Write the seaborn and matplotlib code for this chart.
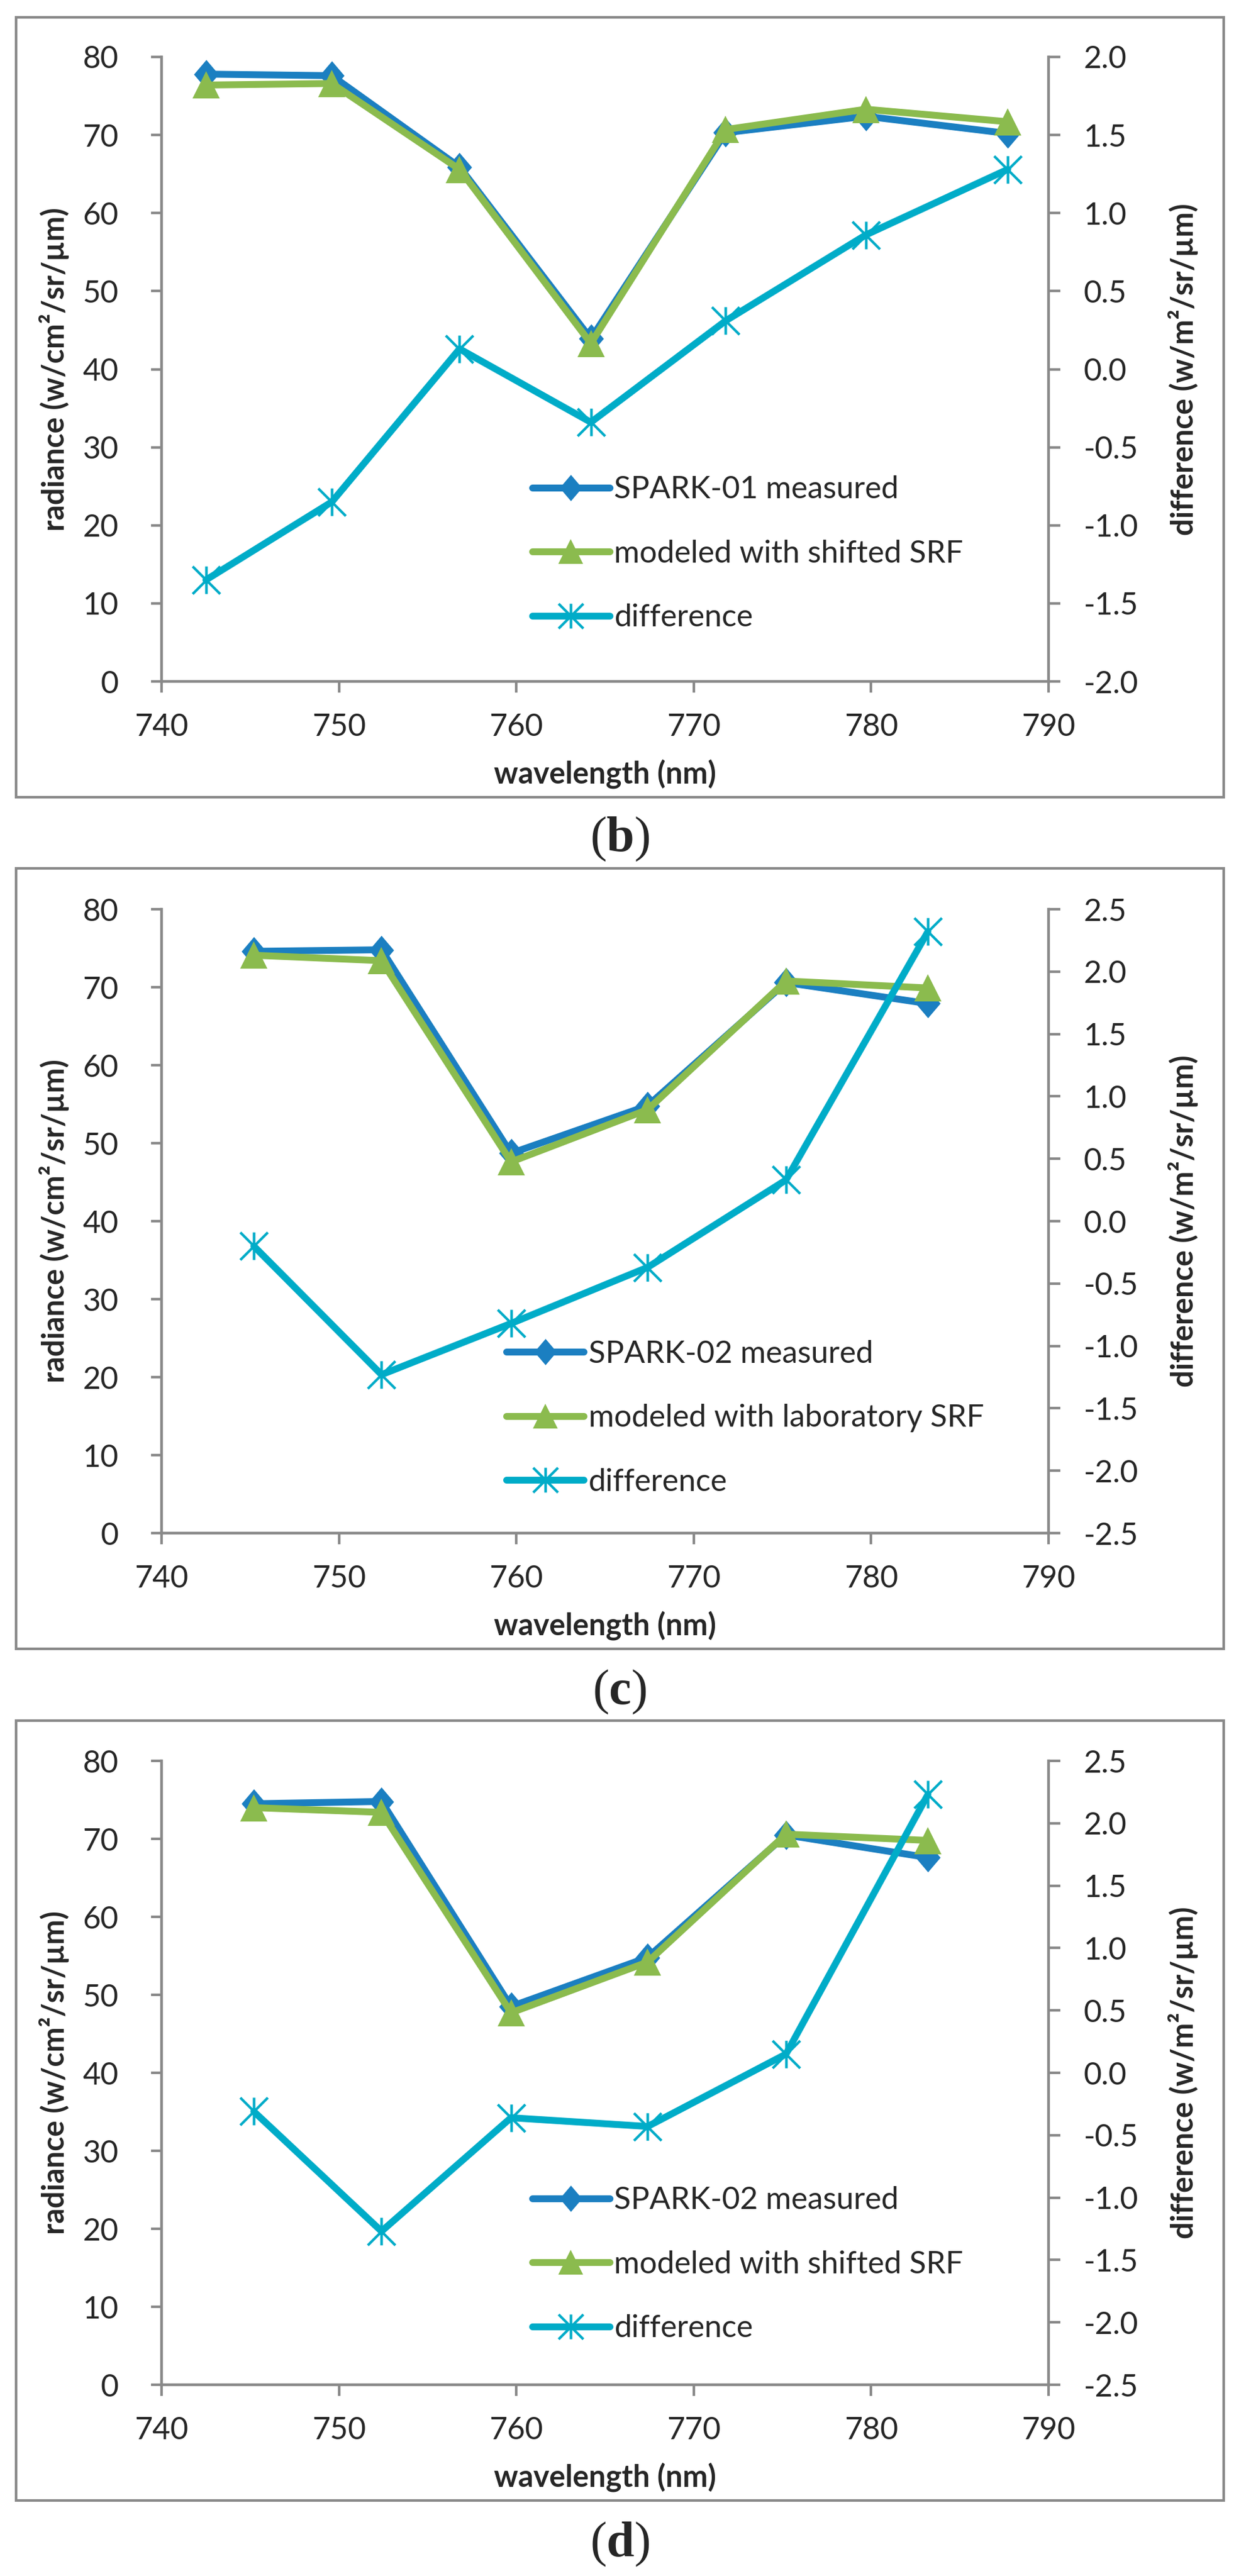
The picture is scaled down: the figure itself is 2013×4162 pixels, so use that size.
import matplotlib
matplotlib.use("Agg")
import matplotlib.pyplot as plt
import seaborn as sns
from matplotlib.path import Path
from matplotlib.patches import Rectangle
from matplotlib.ticker import FormatStrFormatter, MultipleLocator

# (b) SPARK-01 vs. model with shifted SRF
wl_b = [742.5, 749.6, 756.8, 764.2, 771.8, 779.7, 787.7]
meas_b = [77.8, 77.6, 65.9, 43.9, 70.3, 72.4, 70.2]
model_b = [76.4, 76.6, 65.6, 43.3, 70.7, 73.3, 71.7]
diff_b = [-1.35, -0.85, 0.13, -0.34, 0.31, 0.86, 1.28]
labels_b = ["SPARK-01 measured", "modeled with shifted SRF", "difference"]

# (c) SPARK-02 vs. model with laboratory SRF
wl_c = [745.2, 752.4, 759.7, 767.4, 775.2, 783.2]
meas_c = [74.6, 74.8, 48.7, 54.8, 70.6, 67.9]
model_c = [74.1, 73.4, 47.6, 54.3, 70.8, 69.9]
diff_c = [-0.20, -1.23, -0.82, -0.37, 0.33, 2.32]
labels_c = ["SPARK-02 measured", "modeled with laboratory SRF", "difference"]

# (d) SPARK-02 vs. model with shifted SRF
wl_d = [745.2, 752.4, 759.7, 767.4, 775.2, 783.2]
meas_d = [74.5, 74.8, 48.5, 54.8, 70.5, 67.6]
model_d = [74.0, 73.4, 47.7, 54.2, 70.6, 69.8]
diff_d = [-0.31, -1.27, -0.36, -0.43, 0.15, 2.23]
labels_d = ["SPARK-02 measured", "modeled with shifted SRF", "difference"]

BLUE = "#1B7FC1"
GREEN = "#8BBB4E"
CYAN = "#00ACC8"
GREY = "#898989"

sns.set_style("white")
plt.rcParams["font.family"] = ["Lato", "DejaVu Sans"]
plt.rcParams["axes.unicode_minus"] = False
plt.rcParams["mathtext.fontset"] = "custom"
plt.rcParams["mathtext.rm"] = "Liberation Serif"
plt.rcParams["mathtext.bf"] = "Liberation Serif:bold"

# Excel-like markers
diamond = Path([(0, 1), (0.85, 0), (0, -1), (-0.85, 0), (0, 1)],
               [Path.MOVETO, Path.LINETO, Path.LINETO, Path.LINETO, Path.CLOSEPOLY])
asterisk = Path([(0, -1), (0, 1), (-1, -1), (1, 1), (-1, 1), (1, -1)],
                [Path.MOVETO, Path.LINETO, Path.MOVETO, Path.LINETO, Path.MOVETO, Path.LINETO])

W, H = 2013, 4162
fig = plt.figure(figsize=(W / 100, H / 100), dpi=100)

panels = [
    (wl_b, meas_b, model_b, diff_b, labels_b, (-2, 2), (28, 1288), (92, 1101), 1356, "b", (0.418, 0.330)),
    (wl_c, meas_c, model_c, diff_c, labels_c, (-2.5, 2.5), (1403, 2664), (1469, 2477), 2734, "c", (0.389, 0.310)),
    (wl_d, meas_d, model_d, diff_d, labels_d, (-2.5, 2.5), (2780, 4040), (2845, 3853), 4111, "d", (0.418, 0.318)),
]

LW = 8
for wl, meas, model, diff, labels, rlim, frame, box, cap_y, letter, leg in panels:
    # outer frame of each chart
    fig.add_artist(Rectangle((26 / W, 1 - frame[1] / H), (1977 - 26) / W, (frame[1] - frame[0]) / H,
                             transform=fig.transFigure, fill=False, ec=GREY, lw=3))

    ax = fig.add_axes([261 / W, 1 - box[1] / H, 1433 / W, (box[1] - box[0]) / H])
    ax2 = ax.twinx()

    sns.lineplot(x=wl, y=meas, ax=ax, color=BLUE, lw=LW, marker=diamond, markersize=34,
                 markeredgewidth=0, markeredgecolor=BLUE, errorbar=None, legend=False,
                 solid_capstyle="round", solid_joinstyle="round")
    h1 = ax.lines[-1]
    sns.lineplot(x=wl, y=model, ax=ax, color=GREEN, lw=LW, marker="^", markersize=32,
                 markeredgewidth=0, markeredgecolor=GREEN, errorbar=None, legend=False,
                 solid_capstyle="round", solid_joinstyle="round")
    h2 = ax.lines[-1]
    sns.lineplot(x=wl, y=diff, ax=ax2, color=CYAN, lw=LW, marker=asterisk, markersize=32,
                 markeredgewidth=3, markeredgecolor=CYAN, fillstyle="none", errorbar=None,
                 legend=False, solid_capstyle="round", solid_joinstyle="round")
    h3 = ax2.lines[-1]

    ax.set_xlim(740, 790)
    ax.set_ylim(0, 80)
    ax.xaxis.set_major_locator(MultipleLocator(10))
    ax.yaxis.set_major_locator(MultipleLocator(10))
    ax2.set_ylim(*rlim)
    ax2.yaxis.set_major_locator(MultipleLocator(0.5))
    ax2.yaxis.set_major_formatter(FormatStrFormatter("%.1f"))

    for s in ["top", "right"]:
        ax.spines[s].set_visible(False)
    for s in ["top", "left", "bottom"]:
        ax2.spines[s].set_visible(False)
    for a, s in [(ax, "left"), (ax, "bottom"), (ax2, "right")]:
        a.spines[s].set_color(GREY)
        a.spines[s].set_linewidth(3.2)

    ax.tick_params(axis="x", direction="out", length=13, width=3, color=GREY, labelsize=36, pad=24, bottom=True)
    ax.tick_params(axis="y", direction="out", length=12, width=3, color=GREY, labelsize=36, pad=38, left=True)
    ax2.tick_params(axis="y", direction="out", length=14, width=3, color=GREY, labelsize=36, pad=27, right=True)

    ax.set_xlabel("wavelength (nm)", fontsize=35, fontweight="bold")
    ax.set_ylabel("radiance (w/cm²/sr/µm)", fontsize=35, fontweight="bold")
    ax2.set_ylabel("difference (w/m²/sr/µm)", fontsize=35, fontweight="bold", rotation=90)
    ax.xaxis.set_label_coords(0.5, -0.148)
    ax.xaxis.label.set_va("center")
    ax.yaxis.set_label_coords(-0.121, 0.5)
    ax.yaxis.label.set_va("center")
    ax2.yaxis.set_label_coords(1.152, 0.5)
    ax2.yaxis.label.set_va("center")

    ax2.legend([h1, h2, h3], labels, loc="upper left", bbox_to_anchor=leg, frameon=False,
               borderpad=0, borderaxespad=0, handlelength=2.5, handletextpad=0.15,
               labelspacing=1.15, fontsize=36, numpoints=1, markerscale=0.9)

    fig.text(1001 / W, 1 - cap_y / H, r"($\mathbf{" + letter + "}$)", ha="center", va="center",
             fontsize=58, family="Liberation Serif")

fig.savefig("out.png", dpi=100)
